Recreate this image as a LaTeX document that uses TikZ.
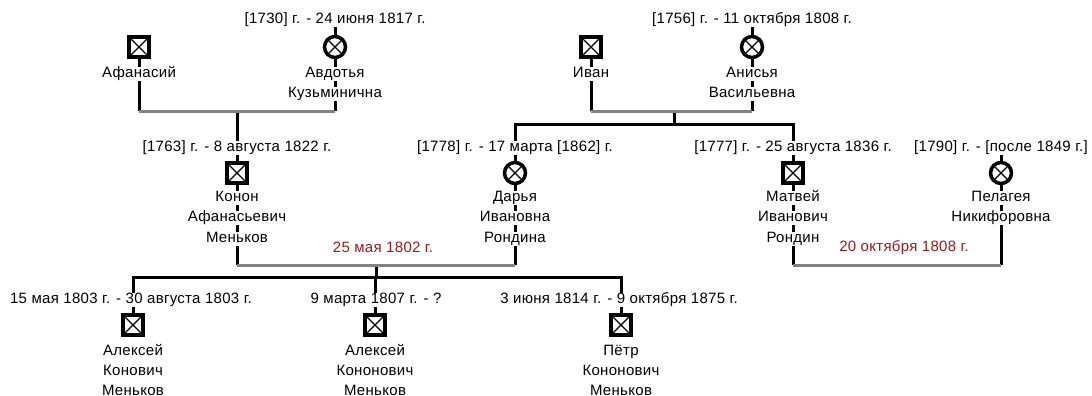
\documentclass[tikz,border=0pt]{standalone}
\usepackage{fontspec}
\setmainfont{Liberation Sans}[LetterSpace=2]
\pgfdeclarelayer{bg}
\pgfsetlayers{bg,main}
\definecolor{mred}{RGB}{155,25,25}
\definecolor{mgray}{RGB}{130,130,130}
\tikzset{
  txt/.style={font=\fontsize{15}{17}\selectfont, fill=white, inner sep=0.5pt, text height=10.5pt, text depth=3pt},
  lbl/.style={font=\fontsize{15}{17}\selectfont, text=mred, inner sep=0.5pt},
  xmark/.style={path picture={\draw[line width=1.2pt] (path picture bounding box.south west) -- (path picture bounding box.north east) (path picture bounding box.north west) -- (path picture bounding box.south east);}},
  male/.style={draw=black, line width=4pt, fill=white, minimum size=20pt, inner sep=0pt, xmark},
  female/.style={circle, draw=black, line width=3.5pt, fill=white, minimum size=21pt, inner sep=0pt, xmark},
  blk/.style={line width=3pt, black},
  gry/.style={line width=3pt, mgray},
}
\begin{document}
\begin{tikzpicture}[x=1pt,y=-1pt]
\useasboundingbox (0,0) rectangle (1092,396);
% ---- generation 1
\node[male] (afaS) at (139,47) {};
\node[txt] (afaN) at (139,74) {Афанасий};
\node[txt] (avdD) at (335,20) {[1730] г. - 24 июня 1817 г.};
\node[female] (avdS) at (335,47) {};
\node[txt] (avdN1) at (335,74) {Авдотья};
\node[txt] (avdN2) at (335,94) {Кузьминична};
\coordinate (cpA) at (237,111);

\node[male] (ivaS) at (591,47) {};
\node[txt] (ivaN) at (591,74) {Иван};
\node[txt] (aniD) at (752,20) {[1756] г. - 11 октября 1808 г.};
\node[female] (aniS) at (752,47) {};
\node[txt] (aniN1) at (752,74) {Анисья};
\node[txt] (aniN2) at (752,94) {Васильевна};
\coordinate (cpB) at (674,111);
\coordinate (sibB) at (674,124);

% ---- generation 2
\node[txt] (konD) at (237,148) {[1763] г. - 8 августа 1822 г.};
\node[male] (konS) at (237,173) {};
\node[txt] (konN1) at (237,198) {Конон};
\node[txt] (konN2) at (237,218) {Афанасьевич};
\node[txt] (konN3) at (237,239) {Меньков};

\node[txt] (darD) at (515,148) {[1778] г. - 17 марта [1862] г.};
\node[female] (darS) at (515,173) {};
\node[txt] (darN1) at (515,198) {Дарья};
\node[txt] (darN2) at (515,218) {Ивановна};
\node[txt] (darN3) at (515,239) {Рондина};

\node[txt] (matD) at (793,148) {[1777] г. - 25 августа 1836 г.};
\node[male] (matS) at (793,173) {};
\node[txt] (matN1) at (793,198) {Матвей};
\node[txt] (matN2) at (793,218) {Иванович};
\node[txt] (matN3) at (793,239) {Рондин};

\node[txt] (pelD) at (1001,148) {[1790] г. - [после 1849 г.]};
\node[female] (pelS) at (1001,173) {};
\node[txt] (pelN1) at (1001,198) {Пелагея};
\node[txt] (pelN2) at (1001,218) {Никифоровна};

\coordinate (cpC) at (376,265);
\coordinate (sibC) at (376,277);
\node[lbl] (wedC) at (383,247) {25 мая 1802 г.};
\coordinate (cpD) at (897,265);
\node[lbl] (wedD) at (904,248) {20 октября 1808 г.};

% ---- generation 3
\node[txt] (al1D) at (131,300) {15 мая 1803 г. - 30 августа 1803 г.};
\node[male] (al1S) at (133,325) {};
\node[txt] (al1N1) at (133,352) {Алексей};
\node[txt] (al1N2) at (133,372) {Конович};
\node[txt] (al1N3) at (133,392) {Меньков};

\node[txt] (al2D) at (376,300) {9 марта 1807 г. - ?};
\node[male] (al2S) at (375,325) {};
\node[txt] (al2N1) at (375,352) {Алексей};
\node[txt] (al2N2) at (375,372) {Кононович};
\node[txt] (al2N3) at (375,392) {Меньков};

\node[txt] (petD) at (619,300) {3 июня 1814 г. - 9 октября 1875 г.};
\node[male] (petS) at (621,325) {};
\node[txt] (petN1) at (621,352) {Пётр};
\node[txt] (petN2) at (621,372) {Кононович};
\node[txt] (petN3) at (621,392) {Меньков};

\begin{pgfonlayer}{bg}
% couple A
\draw[blk] (afaS.center) -- (afaS |- cpA);
\draw[blk] (avdD.center) -- (avdD |- cpA);
\draw[blk] (cpA) -- (konS.center);
\draw[gry] (afaS |- cpA) -- (avdD |- cpA);
% couple B
\draw[blk] (ivaS.center) -- (ivaS |- cpB);
\draw[blk] (aniD.center) -- (aniD |- cpB);
\draw[blk] (cpB) -- (sibB);
\draw[blk] (darS |- cpC) -- (darD |- sibB) -- (matD |- sibB) -- (matS |- cpD);
\draw[gry] (ivaS |- cpB) -- (aniD |- cpB);
% couple C
\draw[blk] (konS.center) -- (konS |- cpC);
\draw[blk] (cpC) -- (sibC);
\draw[blk] (al1S.center) -- (al1S |- sibC) -- (petS |- sibC) -- (petS.center);
\draw[blk] (al2S.center) -- (al2S |- sibC);
\draw[gry] (konS |- cpC) -- (darS |- cpC);
% couple D
\draw[blk] (pelD.center) -- (pelD |- cpD);
\draw[gry] (matS |- cpD) -- (pelD |- cpD);
\end{pgfonlayer}
\end{tikzpicture}
\end{document}
